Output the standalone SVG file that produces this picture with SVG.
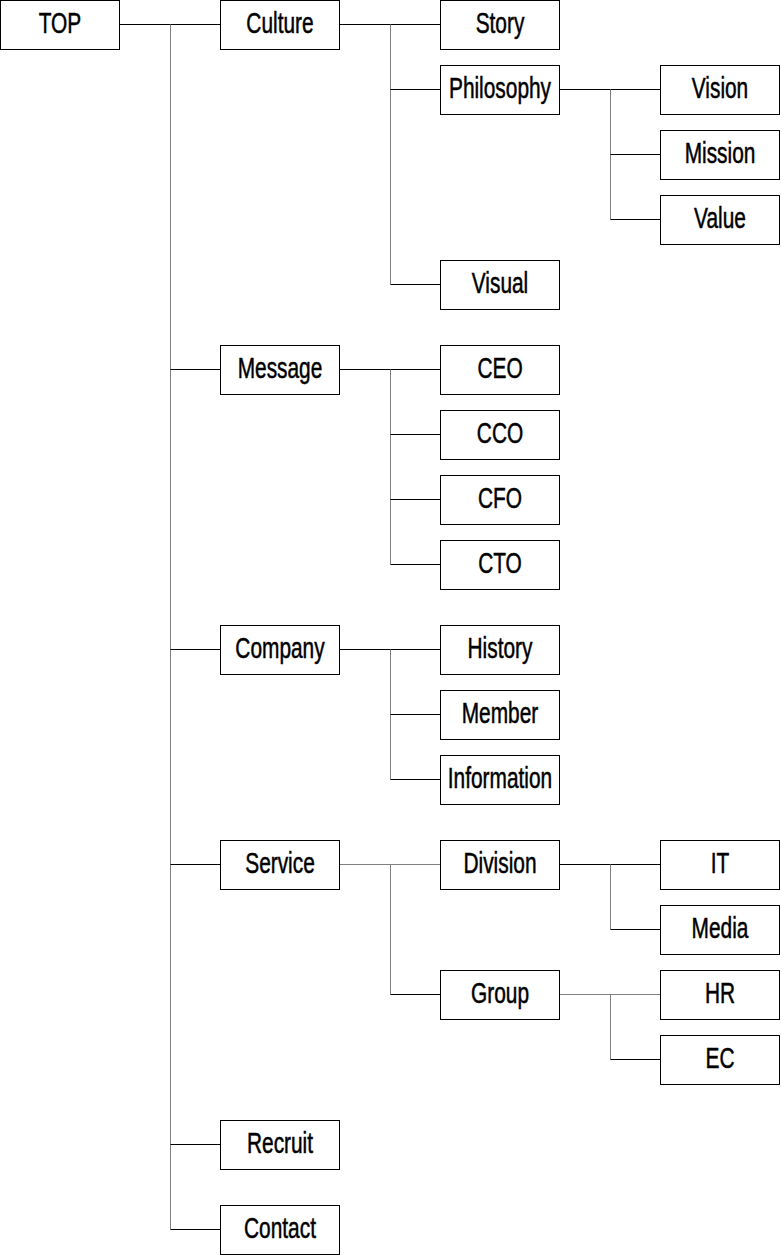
<svg xmlns="http://www.w3.org/2000/svg" width="781" height="1255" viewBox="0 0 781 1255">
<style>
.box{fill:#fff;stroke:#000;stroke-width:1}
.lbl{font-family:"Liberation Sans",Arial,sans-serif;font-size:29px;fill:#000;stroke:#000;stroke-width:0.5;text-anchor:middle}
.h{stroke:#000;stroke-width:1;fill:none}
.hg{stroke:#808080;stroke-width:1;fill:none}
.v{stroke:#808080;stroke-width:1;fill:none}
</style>
<rect width="781" height="1255" fill="#fff"/>
<g id="connectors">
<path class="h" d="M120 24.5H220"/>
<path class="v" d="M170.5 24.5V1229.5"/>
<path class="h" d="M170.5 369.5H220M170.5 649.5H220M170.5 864.5H220M170.5 1144.5H220M170.5 1229.5H220"/>
<path class="h" d="M340 24.5H440"/>
<path class="v" d="M390.5 24.5V284.5"/>
<path class="h" d="M390.5 89.5H440M390.5 284.5H440"/>
<path class="h" d="M560 89.5H660"/>
<path class="v" d="M610.5 89.5V219.5"/>
<path class="h" d="M610.5 154.5H660M610.5 219.5H660"/>
<path class="h" d="M340 369.5H440"/>
<path class="v" d="M390.5 369.5V564.5"/>
<path class="h" d="M390.5 434.5H440M390.5 499.5H440M390.5 564.5H440"/>
<path class="h" d="M340 649.5H440"/>
<path class="v" d="M390.5 649.5V779.5"/>
<path class="h" d="M390.5 714.5H440M390.5 779.5H440"/>
<path class="hg" d="M340 864.5H440"/>
<path class="v" d="M390.5 864.5V994.5"/>
<path class="h" d="M390.5 994.5H440"/>
<path class="h" d="M560 864.5H660"/>
<path class="v" d="M610.5 864.5V929.5"/>
<path class="h" d="M610.5 929.5H660"/>
<path class="hg" d="M560 994.5H660"/>
<path class="v" d="M610.5 994.5V1059.5"/>
<path class="h" d="M610.5 1059.5H660"/>
</g>
<g id="top"><rect class="box" x="0.5" y="0.5" width="119" height="49"/><text class="lbl" transform="translate(60,33) scale(0.72,1)">TOP</text></g>
<g id="culture"><rect class="box" x="220.5" y="0.5" width="119" height="49"/><text class="lbl" transform="translate(280,33) scale(0.72,1)">Culture</text></g>
<g id="story"><rect class="box" x="440.5" y="0.5" width="119" height="49"/><text class="lbl" transform="translate(500,33) scale(0.72,1)">Story</text></g>
<g id="philosophy"><rect class="box" x="440.5" y="65.5" width="119" height="49"/><text class="lbl" transform="translate(500,98) scale(0.72,1)">Philosophy</text></g>
<g id="vision"><rect class="box" x="660.5" y="65.5" width="119" height="49"/><text class="lbl" transform="translate(720,98) scale(0.72,1)">Vision</text></g>
<g id="mission"><rect class="box" x="660.5" y="130.5" width="119" height="49"/><text class="lbl" transform="translate(720,163) scale(0.72,1)">Mission</text></g>
<g id="value"><rect class="box" x="660.5" y="195.5" width="119" height="49"/><text class="lbl" transform="translate(720,228) scale(0.72,1)">Value</text></g>
<g id="visual"><rect class="box" x="440.5" y="260.5" width="119" height="49"/><text class="lbl" transform="translate(500,293) scale(0.72,1)">Visual</text></g>
<g id="message"><rect class="box" x="220.5" y="345.5" width="119" height="49"/><text class="lbl" transform="translate(280,378) scale(0.72,1)">Message</text></g>
<g id="ceo"><rect class="box" x="440.5" y="345.5" width="119" height="49"/><text class="lbl" transform="translate(500,378) scale(0.72,1)">CEO</text></g>
<g id="cco"><rect class="box" x="440.5" y="410.5" width="119" height="49"/><text class="lbl" transform="translate(500,443) scale(0.72,1)">CCO</text></g>
<g id="cfo"><rect class="box" x="440.5" y="475.5" width="119" height="49"/><text class="lbl" transform="translate(500,508) scale(0.72,1)">CFO</text></g>
<g id="cto"><rect class="box" x="440.5" y="540.5" width="119" height="49"/><text class="lbl" transform="translate(500,573) scale(0.72,1)">CTO</text></g>
<g id="company"><rect class="box" x="220.5" y="625.5" width="119" height="49"/><text class="lbl" transform="translate(280,658) scale(0.72,1)">Company</text></g>
<g id="history"><rect class="box" x="440.5" y="625.5" width="119" height="49"/><text class="lbl" transform="translate(500,658) scale(0.72,1)">History</text></g>
<g id="member"><rect class="box" x="440.5" y="690.5" width="119" height="49"/><text class="lbl" transform="translate(500,723) scale(0.72,1)">Member</text></g>
<g id="information"><rect class="box" x="440.5" y="755.5" width="119" height="49"/><text class="lbl" transform="translate(500,788) scale(0.72,1)">Information</text></g>
<g id="service"><rect class="box" x="220.5" y="840.5" width="119" height="49"/><text class="lbl" transform="translate(280,873) scale(0.72,1)">Service</text></g>
<g id="division"><rect class="box" x="440.5" y="840.5" width="119" height="49"/><text class="lbl" transform="translate(500,873) scale(0.72,1)">Division</text></g>
<g id="it"><rect class="box" x="660.5" y="840.5" width="119" height="49"/><text class="lbl" transform="translate(720,873) scale(0.72,1)">IT</text></g>
<g id="media"><rect class="box" x="660.5" y="905.5" width="119" height="49"/><text class="lbl" transform="translate(720,938) scale(0.72,1)">Media</text></g>
<g id="group"><rect class="box" x="440.5" y="970.5" width="119" height="49"/><text class="lbl" transform="translate(500,1003) scale(0.72,1)">Group</text></g>
<g id="hr"><rect class="box" x="660.5" y="970.5" width="119" height="49"/><text class="lbl" transform="translate(720,1003) scale(0.72,1)">HR</text></g>
<g id="ec"><rect class="box" x="660.5" y="1035.5" width="119" height="49"/><text class="lbl" transform="translate(720,1068) scale(0.72,1)">EC</text></g>
<g id="recruit"><rect class="box" x="220.5" y="1120.5" width="119" height="49"/><text class="lbl" transform="translate(280,1153) scale(0.72,1)">Recruit</text></g>
<g id="contact"><rect class="box" x="220.5" y="1205.5" width="119" height="49"/><text class="lbl" transform="translate(280,1238) scale(0.72,1)">Contact</text></g>
</svg>
